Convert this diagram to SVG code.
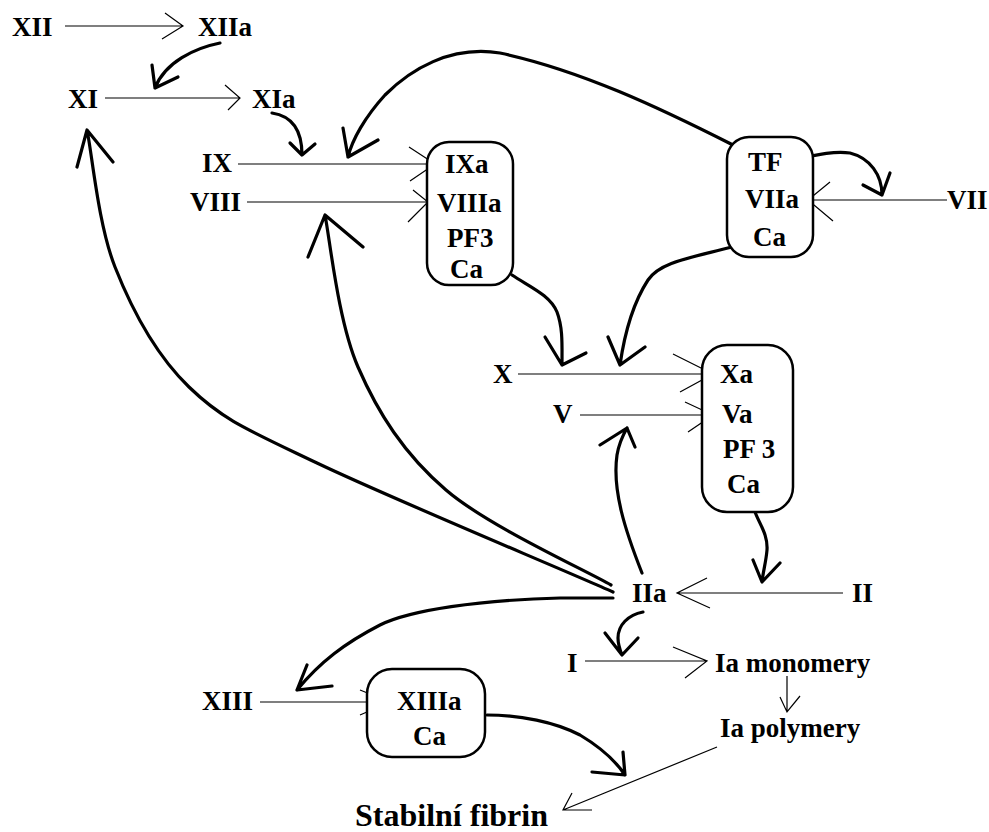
<svg xmlns="http://www.w3.org/2000/svg" width="989" height="832" viewBox="0 0 989 832">
<style>
text{font-family:"Liberation Serif","Times New Roman",serif;font-size:27px;font-weight:bold;fill:#000}
.big{font-size:32px}
.box{fill:#fff;stroke:#000;stroke-width:2.5}
.thin{fill:none;stroke:#000;stroke-width:1.2}
.thick{fill:none;stroke:#000;stroke-width:3.2;stroke-linecap:round;stroke-linejoin:round}
</style>
<rect width="989" height="832" fill="#fff"/>
<g id="connectors">
<!-- thin reaction arrows -->
<path class="thin" d="M65,26H183M165,13L183,26L162,39"/>
<path class="thin" d="M105,98H240M225,85L240,98L228,110"/>
<path class="thin" d="M238,164H435M409,147L435,164L410,181"/>
<path class="thin" d="M247,202H428M413,190L428,202L408,222"/>
<path class="thin" d="M518,374H713M673,354L713,374L680,392"/>
<path class="thin" d="M580,415H713M685,402L713,415L688,432"/>
<path class="thin" d="M947,200H808M830,182L808,200L833,221"/>
<path class="thin" d="M843,593H677M707,578L677,593L710,608"/>
<path class="thin" d="M585,661H707M673,647L707,661L685,678"/>
<path class="thin" d="M787,676V712M780,697L787,712L800,696" stroke-width="2"/>
<path class="thin" d="M260,702H390M360,690L390,702L360,715"/>
<path class="thin" d="M717,747L563,810M572,793L563,810L592,810"/>
<!-- thick feedback arrows -->
<path class="thick" d="M220,43C195,48 165,62 155,88M152,65L155,88L178,77"/>
<path class="thick" d="M272,113C292,116 302,130 302,155M290,143L302,155L315,144"/>
<path class="thick" d="M733,145C660,108 580,70 500,53C450,45 410,70 385,95C365,117 352,140 348,157M343,128L348,157L378,140"/>
<path class="thick" d="M787,161C805,158 830,150 850,153C870,158 882,175 882,195M863,185L882,195L890,173"/>
<path class="thick" d="M732,247C690,258 660,262 648,280C635,300 625,330 620,365M608,337L620,365L645,347"/>
<path class="thick" d="M512,275C530,287 550,295 557,312C563,328 562,345 562,365M545,337L562,365L586,353"/>
<path class="thick" d="M755,512C760,525 768,535 767,550C766,562 763,572 762,582M753,560L762,582L780,563"/>
<path class="thick" d="M613,592C564,570 388,497 317,463C246,429 223,420 189,387C155,354 132,310 115,267C98,224 92,153 87,130M77,167L87,130L113,162"/>
<path class="thick" d="M611,585C583,569 488,526 446,490C404,454 378,413 358,367C338,321 330,240 325,215M308,257L325,215L363,247"/>
<path class="thick" d="M642,573C625,530 612,490 617,455C619,443 623,435 627,428M600,445L627,428L635,447"/>
<path class="thick" d="M613,598L560,598C480,600 410,610 380,625C345,643 320,662 297,690M307,665L297,690L332,686"/>
<path class="thick" d="M643,612C628,615 618,625 618,638C618,645 620,650 622,655M605,633L622,655L638,638"/>
<path class="thick" d="M487,715C520,715 555,722 580,735C600,747 615,760 625,775M623,752L625,775L592,772"/>
</g>
<g id="n-XII"><text x="12" y="36">XII</text></g>
<g id="n-XIIa"><text x="198" y="36">XIIa</text></g>
<g id="n-XI"><text x="68" y="108">XI</text></g>
<g id="n-XIa"><text x="252" y="108">XIa</text></g>
<g id="n-IX"><text x="202" y="172">IX</text></g>
<g id="n-VIII"><text x="190" y="211">VIII</text></g>
<g id="n-IXa-box">
<rect class="box" x="427" y="142" width="86" height="143" rx="22"/>
<text x="445" y="173">IXa</text>
<text x="437" y="212">VIIIa</text>
<text x="447" y="247">PF3</text>
<text x="450" y="278">Ca</text>
</g>
<g id="n-TF-box">
<rect class="box" x="727" y="137" width="86" height="120" rx="22"/>
<text x="748" y="171">TF</text>
<text x="745" y="208">VIIa</text>
<text x="753" y="246">Ca</text>
</g>
<g id="n-VII"><text x="947" y="209">VII</text></g>
<g id="n-X"><text x="493" y="383">X</text></g>
<g id="n-V"><text x="553" y="423">V</text></g>
<g id="n-Xa-box">
<rect class="box" x="702" y="345" width="91" height="167" rx="25"/>
<text x="720" y="383">Xa</text>
<text x="722" y="423">Va</text>
<text x="723" y="458">PF 3</text>
<text x="727" y="493">Ca</text>
</g>
<g id="n-IIa"><text x="632" y="602">IIa</text></g>
<g id="n-II"><text x="852" y="602">II</text></g>
<g id="n-I"><text x="567" y="672">I</text></g>
<g id="n-Ia-mono"><text x="715" y="672">Ia monomery</text></g>
<g id="n-Ia-poly"><text x="720" y="737">Ia polymery</text></g>
<g id="n-XIII"><text x="202" y="710">XIII</text></g>
<g id="n-XIIIa-box">
<rect class="box" x="367" y="669" width="118" height="88" rx="25"/>
<text x="397" y="710">XIIIa</text>
<text x="413" y="745">Ca</text>
</g>
<g id="n-fibrin"><text class="big" x="355" y="826">Stabilní fibrin</text></g>
</svg>
